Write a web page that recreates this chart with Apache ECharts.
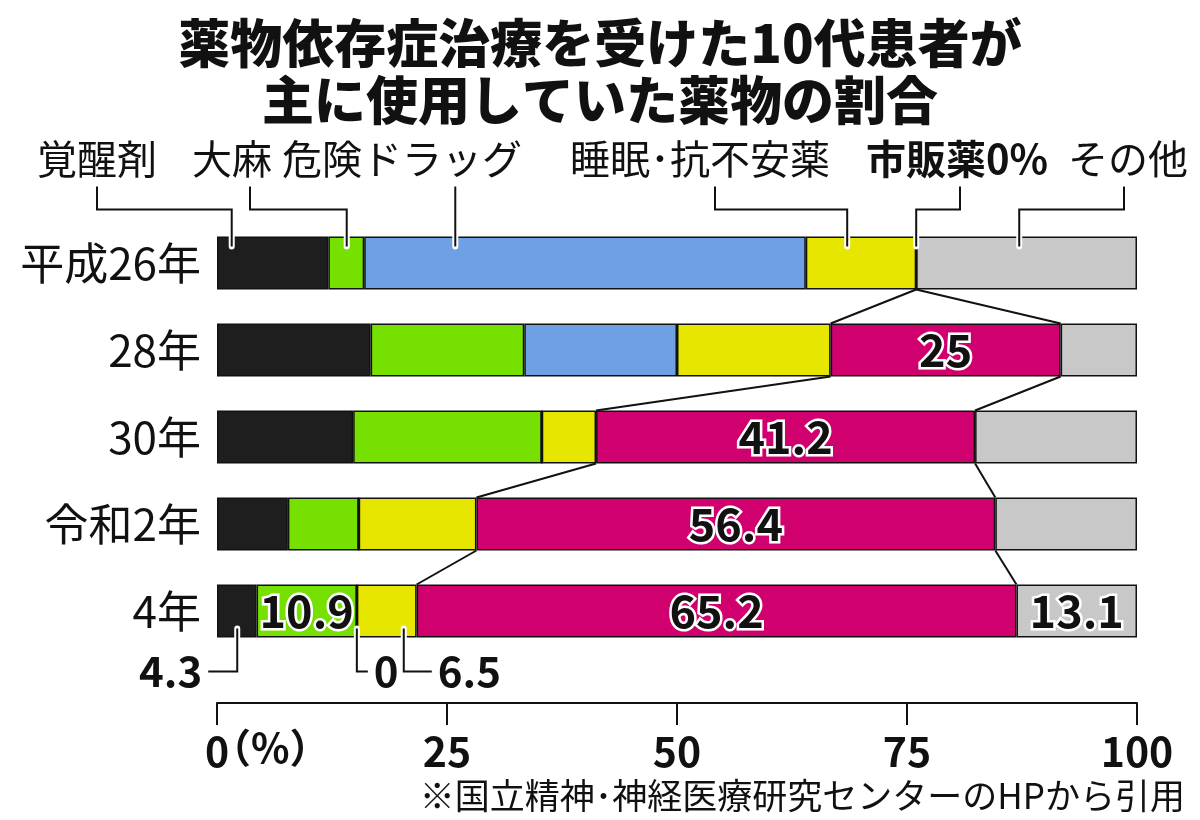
<!DOCTYPE html>
<html><head><meta charset="utf-8">
<script src="https://cdn.jsdelivr.net/npm/echarts@6/dist/echarts.min.js"></script>
<style>html,body{margin:0;padding:0;background:#fff}#c{width:1200px;height:820px}</style>
</head><body><div id="c"></div>
<script>
// ---- data ----
const categories = ['平成26年', '28年', '30年', '令和2年', '4年'];
const seriesNames = ['覚醒剤', '大麻', '危険ドラッグ', '睡眠・抗不安薬', '市販薬', 'その他'];
const stimulants = [12.1, 16.7, 14.8, 7.7, 4.3];
const cannabis = [3.9, 16.7, 20.5, 7.7, 10.9];
const dangerousDrugs = [48.0, 16.6, 0, 0, 0];
const sleepAnxiolytics = [12.0, 16.7, 5.9, 12.8, 6.5];
const otcDrugs = [0, 25, 41.2, 56.4, 65.2];
const others = [24.0, 8.3, 17.6, 15.4, 13.1];
const xTicks = [0, 25, 50, 75, 100];
const legendLabels = ['覚醒剤', '大麻', '危険ドラッグ', '睡眠･抗不安薬', '市販薬0%', 'その他'];
// rows whose value is printed inside the bar
const labelRows = { '大麻': [4], '市販薬': [1, 2, 3, 4], 'その他': [4] };

// ---- style / layout ----
const FONT = '"Noto Sans CJK JP", "Noto Sans", sans-serif';
const colors = ['#1e1e1e', '#76e000', '#6fa0e3', '#e6e600', '#d0006e', '#c8c8c8'];
const BAR_H = 53;
const GRID = { left: 217, right: 63, top: 219.5, height: 435 };
// top legend leader lines: anchor (value on first bar), leader x (px), label center x (px)
const legendAnchor = [1.6, 14.1, 25.9, 68.5, 76.0, 87.2];
const legendLineX = [97, 250, 455, 715, 960, 1124];
const legendTextX = [97, 232, 402, 700, 957, 1128];
// bottom annotations on last row: anchor value, direction (-1 left, +1 right)
const lastRow = 4;
const bottomNotes = [
  { anchor: 2.2, value: stimulants[lastRow], dir: -1 },
  { anchor: 15.2, value: dangerousDrugs[lastRow], dir: 1 },
  { anchor: 20.3, value: sleepAnxiolytics[lastRow], dir: 1 }
];

const allSeries = [stimulants, cannabis, dangerousDrugs, sleepAnxiolytics, otcDrugs, others];
// cumulative start / end of the OTC segment per row
const otcStart = categories.map((_, i) => stimulants[i] + cannabis[i] + dangerousDrugs[i] + sleepAnxiolytics[i]);
const otcEnd = categories.map((_, i) => otcStart[i] + otcDrugs[i]);

const chart = echarts.init(document.getElementById('c'));

const barSeries = seriesNames.map((name, k) => ({
  name, type: 'bar', stack: 'total', barWidth: BAR_H,
  data: allSeries[k].map((v, i) => ({
    value: v,
    label: {
      show: (labelRows[name] || []).includes(i),
      position: 'inside',
      formatter: '{c}',
      fontFamily: FONT, fontSize: 45, fontWeight: 'bold', color: '#111',
      textBorderColor: '#fff', textBorderWidth: 5
    }
  })),
  itemStyle: { color: colors[k], borderColor: '#111', borderWidth: 1.5 },
  emphasis: { disabled: true },
  z: 2
}));

function halo(points) {
  return [
    { type: 'polyline', shape: { points }, style: { stroke: '#fff', lineWidth: 6, lineCap: 'round', lineJoin: 'round', fill: null }, z2: 5 },
    { type: 'polyline', shape: { points }, style: { stroke: '#111', lineWidth: 2, lineCap: 'butt', fill: null }, z2: 6 }
  ];
}

// connectors between OTC segments
const connectorData = [];
for (let i = 0; i < categories.length - 1; i++) {
  connectorData.push([otcStart[i], otcEnd[i], otcStart[i + 1], otcEnd[i + 1], i]);
}
const connectorSeries = {
  type: 'custom', silent: true, z: 3,
  encode: { x: [0, 1, 2, 3], y: 4 },
  renderItem(params, api) {
    const i = api.value(4);
    const a1 = api.coord([api.value(0), i]);
    const a2 = api.coord([api.value(1), i]);
    const b1 = api.coord([api.value(2), i + 1]);
    const b2 = api.coord([api.value(3), i + 1]);
    const h = BAR_H / 2;
    const st = { stroke: '#111', lineWidth: 2 };
    return { type: 'group', children: [
      { type: 'line', shape: { x1: a1[0], y1: a1[1] + h, x2: b1[0], y2: b1[1] - h }, style: st },
      { type: 'line', shape: { x1: a2[0], y1: a2[1] + h, x2: b2[0], y2: b2[1] - h }, style: st }
    ] };
  },
  data: connectorData
};

// top leader lines + legend texts
const leaderSeries = {
  type: 'custom', silent: true, z: 4,
  encode: { x: 0, y: 1 },
  renderItem(params, api) {
    const k = params.dataIndex;
    const p = api.coord([api.value(0), 0]);
    const barTop = p[1] - BAR_H / 2;
    const lx = legendLineX[k];
    const pts = Math.abs(lx - p[0]) < 2
      ? [[p[0], barTop - 50], [p[0], barTop + 10]]
      : [[lx, barTop - 50], [lx, barTop - 27], [p[0], barTop - 27], [p[0], barTop + 10]];
    const isBold = k === 4;
    return { type: 'group', children: halo(pts).concat([{
      type: 'text', z2: 7,
      style: {
        text: legendLabels[k], x: legendTextX[k], y: barTop - 78,
        textAlign: 'center', textVerticalAlign: 'middle',
        fontFamily: FONT, fontSize: 40, fontWeight: isBold ? 'bold' : 'normal', fill: '#111'
      }
    }]) };
  },
  data: legendAnchor.map(a => [a, 0])
};

// bottom annotations on last row
const noteSeries = {
  type: 'custom', silent: true, z: 4,
  encode: { x: 0, y: 1 },
  renderItem(params, api) {
    const n = bottomNotes[params.dataIndex];
    const p = api.coord([api.value(0), lastRow]);
    const barBottom = p[1] + BAR_H / 2;
    const yy = barBottom + 34;
    const len = n.dir < 0 ? 29 : (params.dataIndex === 1 ? 11 : 28);
    const ex = p[0] + n.dir * len;
    const pts = [[p[0], barBottom - 9], [p[0], yy], [ex, yy]];
    return { type: 'group', children: halo(pts).concat([{
      type: 'text', z2: 7,
      style: {
        text: String(n.value), x: ex + n.dir * 6, y: yy,
        textAlign: n.dir < 0 ? 'right' : 'left', textVerticalAlign: 'middle',
        fontFamily: FONT, fontSize: 42, fontWeight: 'bold', fill: '#111'
      }
    }]) };
  },
  data: bottomNotes.map(n => [n.anchor, lastRow])
};

chart.setOption({
  backgroundColor: '#fff',
  animation: false,
  title: {
    text: '薬物依存症治療を受けた10代患者が\n主に使用していた薬物の割合',
    left: 'center', top: 10,
    textStyle: { fontFamily: FONT, fontSize: 52, fontWeight: 900, color: '#111', lineHeight: 57 }
  },
  grid: GRID,
  xAxis: {
    type: 'value', min: xTicks[0], max: xTicks[xTicks.length - 1], interval: 25,
    position: 'bottom', offset: 48.5,
    axisLine: { show: true, lineStyle: { color: '#111', width: 2 } },
    axisTick: { show: true, length: 22, lineStyle: { color: '#111', width: 2 } },
    splitLine: { show: false },
    axisLabel: {
      margin: 28, fontFamily: FONT, fontSize: 41, fontWeight: 'bold', color: '#111',
      formatter: v => xTicks.includes(v) ? String(v) : ''
    }
  },
  yAxis: {
    type: 'category', data: categories, inverse: true,
    axisLine: { show: false }, axisTick: { show: false },
    axisLabel: { margin: 16, fontFamily: FONT, fontSize: 44, color: '#111' }
  },
  graphic: [
    { type: 'text', left: 211, top: 728, style: { text: '（%）', fontFamily: FONT, fontSize: 40, fontWeight: 'bold', fill: '#111' } },
    { type: 'text', right: 15, top: 778, style: { text: '※国立精神･神経医療研究センターのHPから引用', fontFamily: FONT, fontSize: 35, fill: '#111' } }
  ],
  series: barSeries.concat([connectorSeries, leaderSeries, noteSeries])
});
</script></body></html>
